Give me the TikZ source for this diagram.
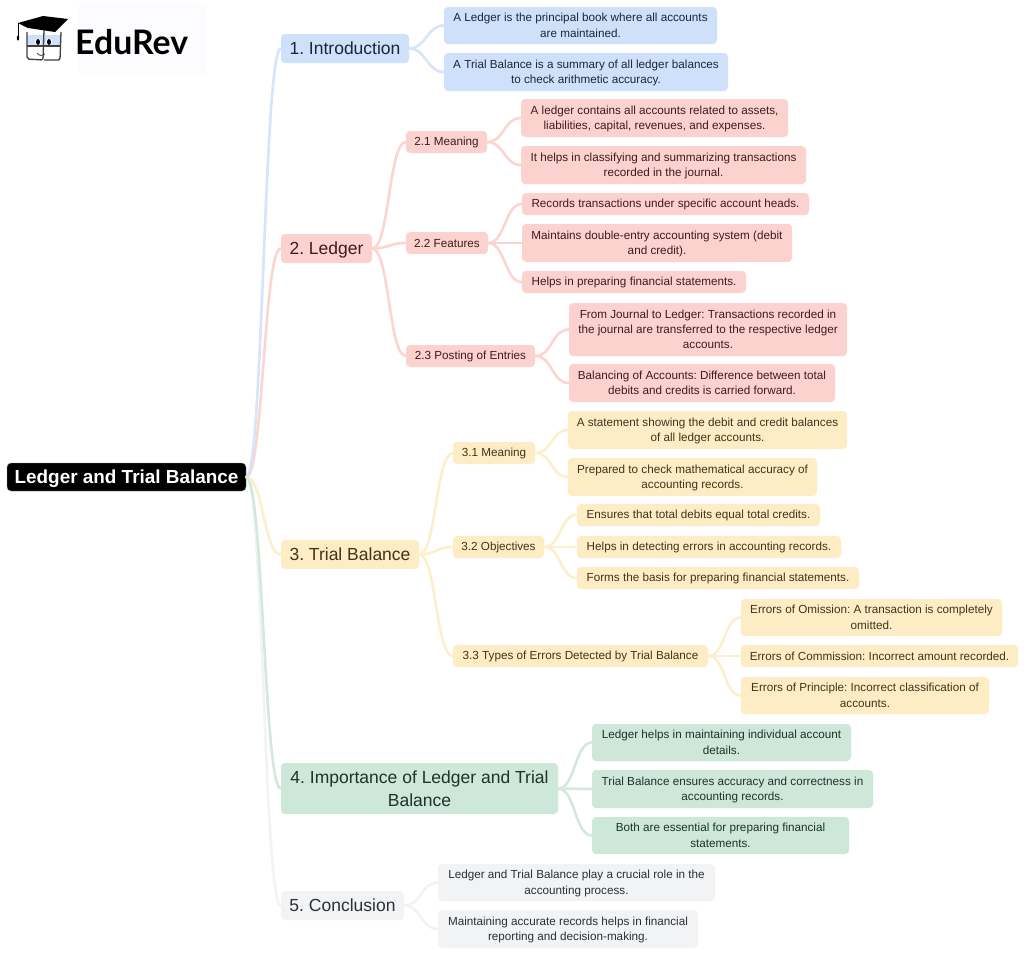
\documentclass[tikz,border=0pt]{standalone}
\usepackage{fontspec}
\setmainfont{Liberation Sans}
\newfontfamily\logofont{Lato}
\frenchspacing
\definecolor{bluefill}{HTML}{CFE0FB}\definecolor{blueline}{HTML}{D6E4FC}\definecolor{bluetext}{HTML}{1B2738}
\definecolor{redfill}{HTML}{FCD2CE}\definecolor{redline}{HTML}{FCD5D1}\definecolor{redtext}{HTML}{401C1A}
\definecolor{yelfill}{HTML}{FEECC4}\definecolor{yelline}{HTML}{FEEFCC}\definecolor{yeltext}{HTML}{40341A}
\definecolor{grnfill}{HTML}{CDE7D8}\definecolor{grnline}{HTML}{D2EADC}\definecolor{grntext}{HTML}{1E3329}
\definecolor{gryfill}{HTML}{F1F3F4}\definecolor{gryline}{HTML}{F1F3F4}\definecolor{grytext}{HTML}{2E2F30}
\tikzset{
  box/.style={rounded corners=4pt,inner sep=0pt,align=center,font=\fontsize{11.7}{15.3}\selectfont},
  big/.style={font=\fontsize{17.5}{23}\selectfont},
  bl/.style={box,fill=bluefill,text=bluetext},
  rd/.style={box,fill=redfill,text=redtext},
  yl/.style={box,fill=yelfill,text=yeltext},
  gn/.style={box,fill=grnfill,text=grntext},
  gy/.style={box,fill=gryfill,text=grytext},
  rootbox/.style={rounded corners=4pt,inner sep=0pt,align=center,fill=black,text=white,draw=black!40,line width=0.4pt,font=\fontsize{18.9}{22}\selectfont\bfseries},
  link/.style={line width=2.6pt,line cap=round},
}
\newcommand{\bx}[7]{\node[#6,minimum width={(#4-#2)*1pt},minimum height={(#5-#3)*1pt}] (#1) at ({(#2+#4)/2},{(#3+#5)/2}) {\rule{0pt}{.875em}#7\rule[-.17em]{0pt}{.17em}};}
\newcommand{\cn}[3]{\draw[link,#1] (#2.east) .. controls +(17,0) and +(-17,0) .. (#3.west);}
\newcommand{\rt}[2]{\draw[link,#1] (root.east) .. controls +(17,0) and +(-17,0) .. (#2.west);}
\begin{document}
\begin{tikzpicture}[x=1pt,y=-1pt]
\useasboundingbox (0,0) rectangle (1024,954);
\fill[white] (0,0) rectangle (1024,954);
% logo
\fill[white!99!blue] (79,3) rectangle (207,75);
\fill[black] (18,23) -- (43,16) -- (68,19) -- (55,32) -- (28,28) -- cycle;
\draw[black,line width=0.8pt] (18,23) -- (18,36);
\fill[black] (18,38) ellipse (1.2 and 2.5);
\fill[bluefill] (27,35) rectangle (61,46);
\draw[black!75,line width=1.3pt,rounded corners=2pt] (27,32) -- (27,59) -- (43,60) -- (44,30);
\draw[black!75,line width=1.3pt,rounded corners=2pt] (44,60) -- (60,60) -- (61,32);
\draw[black!75,line width=1.3pt] (27,46) -- (61,46);
\fill[white] (38,42) circle (3.2);
\fill[white] (49,42) circle (3.2);
\fill[black] (38,42) ellipse (2 and 3);
\fill[black] (49,42) ellipse (2 and 3);
\draw[black!75,line width=0.8pt] (37,53) .. controls (39,56) and (42,56) .. (45,54);
\node[anchor=west,inner sep=0pt,font=\logofont\bfseries\fontsize{33.8}{34}\selectfont,text=black] (logo) at (75,42) {EduRev};
% nodes
\bx{root}{7}{463}{246}{491}{rootbox}{Ledger and Trial Balance}
\bx{a}{281}{34}{409}{63}{bl,big}{1. Introduction}
\bx{a1}{444}{7}{717}{44}{bl}{A Ledger is the principal book where all accounts\\are maintained.}
\bx{a2}{444}{53}{728}{91}{bl}{A Trial Balance is a summary of all ledger balances\\to check arithmetic accuracy.}
\bx{b}{281}{234}{372}{263}{rd,big}{2. Ledger}
\bx{b1}{406}{131}{487}{153}{rd}{2.1 Meaning}
\bx{b11}{521}{99}{788}{137}{rd}{A ledger contains all accounts related to assets,\\liabilities, capital, revenues, and expenses.}
\bx{b12}{521}{146}{806}{184}{rd}{It helps in classifying and summarizing transactions\\recorded in the journal.}
\bx{b2}{406}{232}{488}{254}{rd}{2.2 Features}
\bx{b21}{522}{193}{809}{215}{rd}{Records transactions under specific account heads.}
\bx{b22}{522}{224}{792}{262}{rd}{Maintains double-entry accounting system (debit\\and credit).}
\bx{b23}{522}{271}{746}{293}{rd}{Helps in preparing financial statements.}
\bx{b3}{406}{345}{535}{367}{rd}{2.3 Posting of Entries}
\bx{b31}{569}{303}{847}{356}{rd}{From Journal to Ledger: Transactions recorded in\\the journal are transferred to the respective ledger\\accounts.}
\bx{b32}{569}{364}{835}{402}{rd}{Balancing of Accounts: Difference between total\\debits and credits is carried forward.}
\bx{c}{281}{540}{419}{569}{yl,big}{3. Trial Balance}
\bx{c1}{453}{442}{535}{464}{yl}{3.1 Meaning}
\bx{c11}{568}{411}{847}{449}{yl}{A statement showing the debit and credit balances\\of all ledger accounts.}
\bx{c12}{568}{458}{817}{496}{yl}{Prepared to check mathematical accuracy of\\accounting records.}
\bx{c2}{453}{536}{544}{558}{yl}{3.2 Objectives}
\bx{c21}{577}{504}{820}{526}{yl}{Ensures that total debits equal total credits.}
\bx{c22}{577}{536}{841}{558}{yl}{Helps in detecting errors in accounting records.}
\bx{c23}{577}{567}{859}{589}{yl}{Forms the basis for preparing financial statements.}
\bx{c3}{453}{645}{708}{667}{yl}{3.3 Types of Errors Detected by Trial Balance}
\bx{c31}{741}{599}{1002}{636}{yl}{Errors of Omission: A transaction is completely\\omitted.}
\bx{c32}{741}{645}{1018}{667}{yl}{Errors of Commission: Incorrect amount recorded.}
\bx{c33}{741}{677}{989}{714}{yl}{Errors of Principle: Incorrect classification of\\accounts.}
\bx{d}{281}{763}{558}{814}{gn,big}{4. Importance of Ledger and Trial\\Balance}
\bx{d1}{592}{724}{851}{761}{gn}{Ledger helps in maintaining individual account\\details.}
\bx{d2}{592}{770}{873}{808}{gn}{Trial Balance ensures accuracy and correctness in\\accounting records.}
\bx{d3}{592}{817}{849}{854}{gn}{Both are essential for preparing financial\\statements.}
\bx{e}{281}{891}{404}{920}{gy,big}{5. Conclusion}
\bx{e1}{438}{864}{715}{901}{gy}{Ledger and Trial Balance play a crucial role in the\\accounting process.}
\bx{e2}{438}{910}{698}{948}{gy}{Maintaining accurate records helps in financial\\reporting and decision-making.}
% connectors
\rt{gryline}{e}\rt{grnline}{d}\rt{yelline}{c}\rt{redline}{b}\rt{blueline}{a}
\cn{blueline}{a}{a1}\cn{blueline}{a}{a2}
\cn{redline}{b}{b1}\cn{redline}{b}{b2}\cn{redline}{b}{b3}
\cn{redline}{b1}{b11}\cn{redline}{b1}{b12}
\cn{redline}{b2}{b21}\cn{redline}{b2}{b22}\cn{redline}{b2}{b23}
\cn{redline}{b3}{b31}\cn{redline}{b3}{b32}
\cn{yelline}{c}{c1}\cn{yelline}{c}{c2}\cn{yelline}{c}{c3}
\cn{yelline}{c1}{c11}\cn{yelline}{c1}{c12}
\cn{yelline}{c2}{c21}\cn{yelline}{c2}{c22}\cn{yelline}{c2}{c23}
\cn{yelline}{c3}{c31}\cn{yelline}{c3}{c32}\cn{yelline}{c3}{c33}
\cn{grnline}{d}{d1}\cn{grnline}{d}{d2}\cn{grnline}{d}{d3}
\cn{gryline}{e}{e1}\cn{gryline}{e}{e2}
\end{tikzpicture}
\end{document}
